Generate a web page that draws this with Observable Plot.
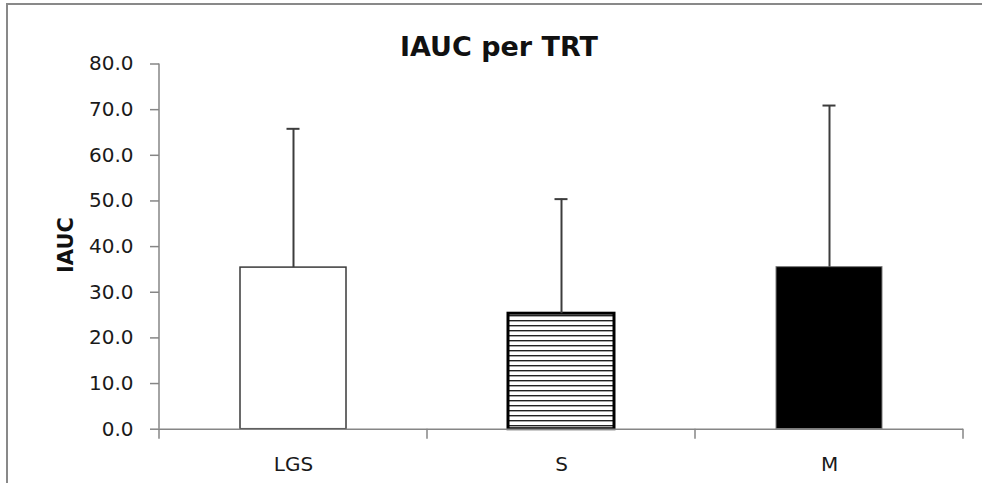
<!DOCTYPE html>
<html>
<head>
<meta charset="utf-8">
<script src="https://cdn.jsdelivr.net/npm/d3@7"></script>
<script src="https://cdn.jsdelivr.net/npm/@observablehq/plot@0.6"></script>
<style>
  html, body { margin: 0; padding: 0; background: #fff; overflow: hidden; }
  #wrap { position: relative; width: 982px; height: 483px; overflow: hidden; background: #fff; }
  #chart { position: absolute; left: 0; top: 0; width: 982px; height: 483px; }
  #topline { position: absolute; left: 6px; top: 3px; width: 976px; height: 2px; background: #898989; }
  #leftline { position: absolute; left: 6px; top: 3px; width: 2px; height: 480px; background: #898989; }
  #title { position: absolute; left: 0; width: 998px; top: 33px; text-align: center;
           font-family: "DejaVu Sans", sans-serif; font-weight: bold; font-size: 27px;
           line-height: 27px; color: #111; white-space: nowrap; }
  #ylabel { position: absolute; left: 66px; top: 245px; transform: translate(-50%, -50%) rotate(-90deg);
            font-family: "DejaVu Sans", sans-serif; font-weight: bold; font-size: 21px;
            line-height: 21px; color: #111; white-space: nowrap; }
  #chart svg { display: block; }
  #chart svg [aria-label^="y-axis"] path,
  #chart svg [aria-label^="y-axis"] line { stroke: #868686; stroke-width: 1.5px; }
</style>
</head>
<body>
<div id="wrap">
  <div id="chart"></div>
  <div id="topline"></div>
  <div id="leftline"></div>
  <div id="title"></div>
  <div id="ylabel"></div>
</div>
<script>
// ---- data ----
const titleText = "IAUC per TRT";
const yLabelText = "IAUC";
const categories = ["LGS", "S", "M"];
const means = [35.4, 25.3, 35.5];
const errorTops = [65.8, 50.4, 70.9];
const yTicks = [0, 10, 20, 30, 40, 50, 60, 70, 80];

const data = categories.map((c, i) => ({trt: c, mean: means[i], top: errorTops[i]}));

document.getElementById("title").textContent = titleText;
document.getElementById("ylabel").textContent = yLabelText;

const axisGray = "#868686";
const textColor = "#1a1a1a";

// pattern defs for the striped bar
const defsMark = () => {
  const svg = d3.create("svg:g");
  const p = svg.append("defs").append("pattern")
    .attr("id", "hstripe").attr("patternUnits", "userSpaceOnUse")
    .attr("width", 8).attr("height", 5);
  p.append("rect").attr("width", 8).attr("height", 5).attr("fill", "#fff");
  p.append("rect").attr("y", 0).attr("width", 8).attr("height", 1.4).attr("fill", "#222");
  return svg.node();
};

// y axis line and x-axis ticks at category boundaries, derived from the scales
const axisLines = (index, scales, values, dims) => {
  const x = scales.x, y = scales.y;
  const g = d3.create("svg:g").attr("stroke", axisGray).attr("stroke-width", 1.5);
  const step = x(categories[1]) - x(categories[0]);
  const left = dims.marginLeft;
  const y0 = y(yTicks[0]), yTop = y(yTicks[yTicks.length - 1]);
  g.append("line").attr("x1", left).attr("x2", left).attr("y1", yTop).attr("y2", y0);
  for (let k = 0; k <= categories.length; k++) {
    const xx = left + k * step;
    g.append("line").attr("x1", xx).attr("x2", xx).attr("y1", y0).attr("y2", y0 + 10);
  }
  return g.node();
};

const chart = Plot.plot({
  width: 982,
  height: 483,
  marginLeft: 159,
  marginRight: 19,
  marginTop: 63.5,
  marginBottom: 54.3,
  style: {fontFamily: "DejaVu Sans, sans-serif", fontSize: "20px", background: "transparent", color: textColor},
  x: {domain: categories, paddingInner: 0.604, paddingOuter: 0.302, tickSize: 0, tickPadding: 28, label: null},
  y: {domain: [0, 80], ticks: yTicks, tickSize: 9, tickPadding: 17, tickFormat: d => d.toFixed(1), label: null},
  marks: [
    defsMark,
    Plot.barY(data.filter(d => d.trt === "LGS"), {x: "trt", y: "mean", fill: "white", stroke: "#3a3a3a", strokeWidth: 1.5}),
    Plot.barY(data.filter(d => d.trt === "S"), {x: "trt", y: "mean", fill: "url(#hstripe)", stroke: "#000", strokeWidth: 3}),
    Plot.barY(data.filter(d => d.trt === "M"), {x: "trt", y: "mean", fill: "#000", stroke: "#7a7a7a", strokeWidth: 1}),
    Plot.ruleX(data, {x: "trt", y1: "mean", y2: "top", stroke: "#3c3c3c", strokeWidth: 2}),
    Plot.tickY(data, {x: "trt", y: "top", stroke: "#3c3c3c", strokeWidth: 2, insetLeft: 46.5, insetRight: 46.5}),
    Plot.ruleY([0], {stroke: axisGray, strokeWidth: 1.5}),
    axisLines
  ]
});
document.getElementById("chart").appendChild(chart);
</script>
</body>
</html>
